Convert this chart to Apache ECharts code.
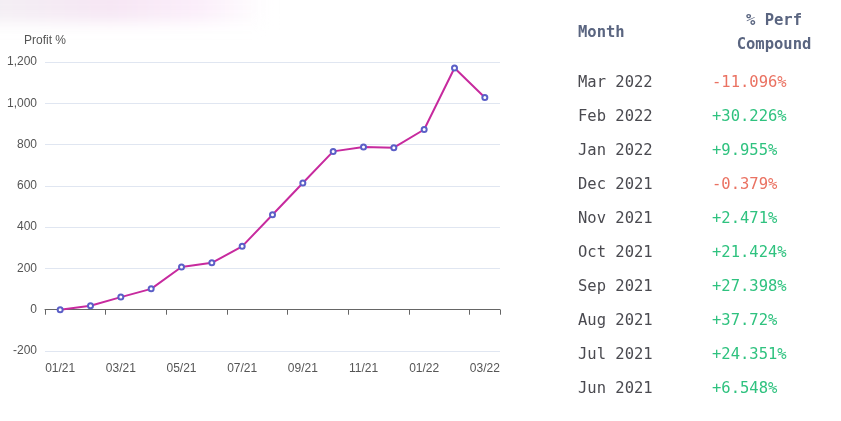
<!DOCTYPE html>
<html>
<head>
<meta charset="utf-8">
<script src="https://cdn.jsdelivr.net/npm/echarts@6/dist/echarts.min.js"></script>
<style>
    html, body { margin: 0; padding: 0; background: #fff; }
    #wrap { position: relative; width: 841px; height: 421px; overflow: hidden; }
    #glow {
        position: absolute; left: -20px; top: -18px; width: 290px; height: 40px;
        background: linear-gradient(90deg, #f3f0f4 0%, #f6e6f4 45%, #fbeefa 75%, #fff 100%);
        filter: blur(8px);
    }
    #chart { position: absolute; left: 0; top: 0; width: 560px; height: 421px; }
    #perf { position: absolute; left: 0; top: 0; width: 841px; height: 421px; pointer-events: none;
        font-family: "DejaVu Sans Mono", "Liberation Mono", monospace; font-size: 15.5px; }
    .hd { position: absolute; color: #5a6580; font-weight: bold; }
    .mo { position: absolute; left: 578px; color: #4a4a50; }
    .val { position: absolute; left: 712px; }
    .up { color: #2fc27f; }
    .down { color: #ea7262; }
</style>
</head>
<body>
<div id="wrap">
    <div id="glow"></div>
    <div id="chart"></div>
    <div id="perf"></div>
</div>
<script>
// chart data
var months = ['01/21', '02/21', '03/21', '04/21', '05/21', '06/21', '07/21', '08/21',
    '09/21', '10/21', '11/21', '12/21', '01/22', '02/22', '03/22'];
var profit = [0, 19, 61, 101, 207, 227, 307, 460, 614, 767, 788, 785, 873, 1171, 1028];
var yTicks = [-200, 1200, 200]; // min, max, step

// table data
var tableMonths = ['Mar 2022', 'Feb 2022', 'Jan 2022', 'Dec 2021', 'Nov 2021',
    'Oct 2021', 'Sep 2021', 'Aug 2021', 'Jul 2021', 'Jun 2021'];
var tablePerf = ['-11.096', '+30.226', '+9.955', '-0.379', '+2.471',
    '+21.424', '+27.398', '+37.72', '+24.351', '+6.548'];

function buildTable() {
    var box = document.getElementById('perf');
    var html = '';
    html += '<div class="hd" style="left:578px;top:23px">Month</div>';
    html += '<div class="hd" style="left:712px;width:124px;text-align:center;top:11px">% Perf</div>';
    html += '<div class="hd" style="left:712px;width:124px;text-align:center;top:35px">Compound</div>';
    for (var i = 0; i < tableMonths.length; i++) {
        var top = 73 + i * 34;
        var cls = tablePerf[i].charAt(0) === '-' ? 'down' : 'up';
        html += '<div class="mo" style="top:' + top + 'px">' + tableMonths[i] + '</div>';
        html += '<div class="val ' + cls + '" style="top:' + top + 'px">' + tablePerf[i] + '%</div>';
    }
    box.innerHTML = html;
}
buildTable();

var myChart = echarts.init(document.getElementById('chart'));
var option = {
    animation: false,
    textStyle: { fontFamily: 'Liberation Sans, Arial, sans-serif' },
    grid: { left: 45, right: 60, top: 62, bottom: 70 },
    xAxis: {
        type: 'category',
        data: months,
        boundaryGap: true,
        axisLine: { onZero: true, lineStyle: { color: '#666' } },
        axisTick: { show: true, interval: 1, length: 5, lineStyle: { color: '#666' } },
        axisLabel: { interval: 1, color: '#555', fontSize: 12, margin: 12 }
    },
    yAxis: {
        type: 'value',
        name: 'Profit %',
        nameTextStyle: { color: '#555', fontSize: 12 },
        min: yTicks[0],
        max: yTicks[1],
        interval: yTicks[2],
        axisLabel: { color: '#555', fontSize: 12 },
        splitLine: { lineStyle: { color: '#e0e6f1' } }
    },
    series: [{
        name: 'Profit %',
        type: 'line',
        data: profit,
        symbol: 'emptyCircle',
        symbolSize: 5,
        showAllSymbol: true,
        lineStyle: { color: '#c72a9e', width: 2 },
        itemStyle: { color: '#5b5fc7', borderColor: '#5b5fc7', borderWidth: 1.5 }
    }]
};
myChart.setOption(option);
</script>
</body>
</html>
